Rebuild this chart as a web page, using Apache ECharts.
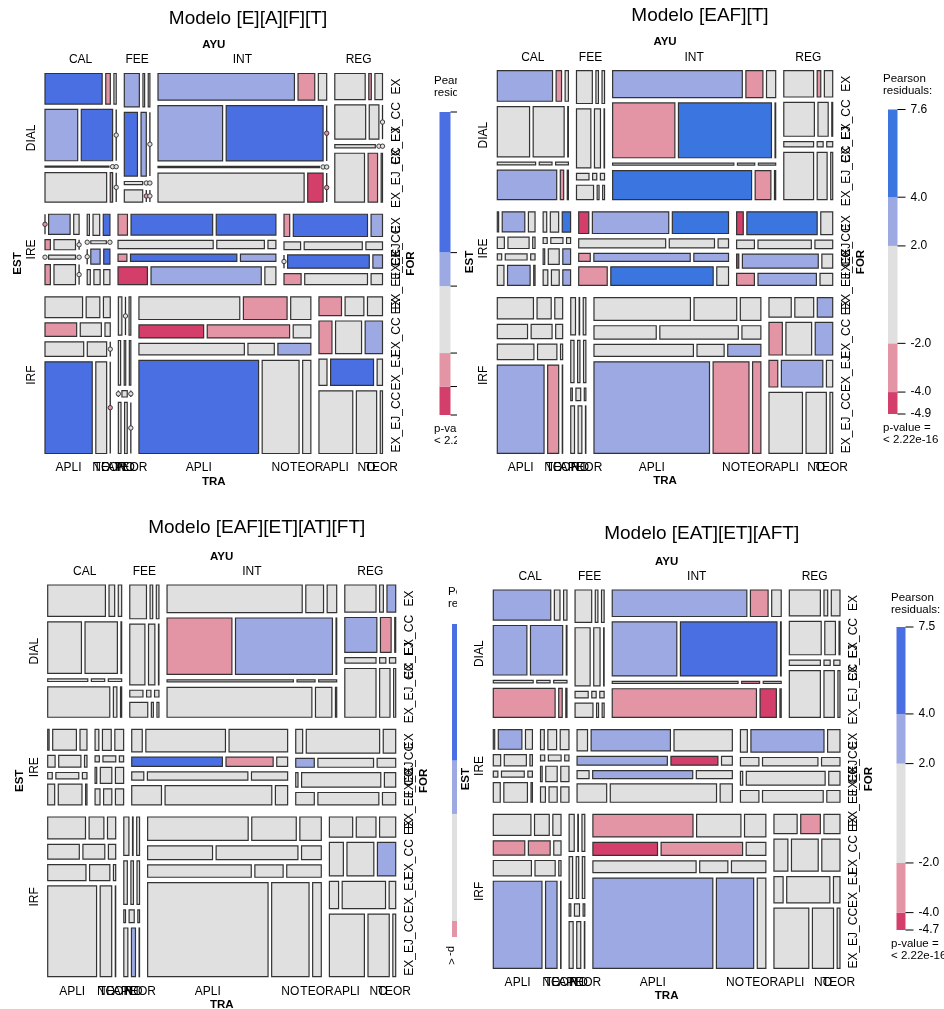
<!DOCTYPE html>
<html>
<head>
<meta charset="utf-8">
<script src="https://cdn.jsdelivr.net/npm/echarts@6/dist/echarts.min.js"></script>
<style>
html,body{margin:0;padding:0;background:#fff;}
#main{width:944px;height:1009px;}
</style>
</head>
<body>
<div id="main"></div>
<script>
// ---- factor levels ----
const EST_LEVELS = ['DIAL', 'IRE', 'IRF'];
const AYU_LEVELS = ['CAL', 'FEE', 'INT', 'REG'];
const FOR_LEVELS = ['EX', 'EX_CC', 'EX_EJ', 'EX_EJ_CC'];
const TRA_LEVELS = ['APLI', 'NO', 'TEOR'];

// ---- observed counts, [AYU][FOR][TRA] for each level of EST ----
const countsDIAL = [
  [[25, 2, 1], [24, 23, 0], [1, 0, 0], [26, 1, 0]],
  [[9, 1, 1], [15, 6, 0], [1, 0, 0], [4, 0, 0]],
  [[49, 6, 3], [48, 72, 0], [3, 0, 0], [57, 6, 0]],
  [[12, 1, 3], [16, 5, 0], [2, 0, 0], [22, 7, 1]]
];
const countsIRE = [
  [[0, 8, 2], [1, 4, 0], [0, 2, 0], [2, 8, 0]],
  [[1, 3, 3], [0, 1, 0], [0, 3, 2], [1, 2, 2]],
  [[3, 26, 19], [12, 6, 1], [1, 12, 4], [8, 30, 3]],
  [[2, 26, 4], [2, 7, 2], [0, 17, 2], [3, 11, 2]]
];
const countsIRF = [
  [[11, 4, 2], [6, 4, 1], [8, 4, 0], [61, 14, 0]],
  [[4, 0, 2], [3, 2, 2], [0, 1, 0], [4, 4, 0]],
  [[30, 13, 6], [11, 14, 3], [16, 4, 5], [146, 45, 10]],
  [[6, 5, 4], [6, 12, 8], [3, 16, 2], [30, 18, 2]]
];

// ---- Pearson residuals per model, [AYU][FOR][TRA] for each level of EST ----
// Modelo [E][A][F][T]
const res1DIAL = [
  [[5, -3, 0], [3, 5, 0], [0, 0, 0], [0, -3, 0]],
  [[3, 0, 0], [5, 3, 0], [0, 0, 0], [0, -2.5, 0]],
  [[3, -3, 0], [3, 5, -3], [0, 0, 0], [0, -5, -3]],
  [[0, -3, 0], [0, 0, 0], [0, 0, 0], [0, -3, 0]]
];
const res1IRE = [
  [[-3, 3, 0], [-3, 0, 0], [0, 0, 0], [-3, 0, 0]],
  [[0, 0, 5], [0, 0, 0], [0, 3, 5], [0, 0, 0]],
  [[-3, 5, 5], [0, 0, 0], [-3, 5, 3], [-5, 3, 0]],
  [[-3, 5, 3], [0, 0, 0], [0, 5, 3], [-3, 0, 0]]
];
const res1IRF = [
  [[0, 0, 0], [-3, 0, 0], [0, 0, 0], [5, 0, -3]],
  [[0, 0, 0], [0, 0, 0], [0, 0, 0], [0, 0, 0]],
  [[0, -3, 0], [-5.7, -3, 0], [0, 0, 3], [12.4, 0, 0]],
  [[-3, 0, 0], [-3, 0, 3], [0, 5, 0], [0, 0, 0]]
];
// Modelo [EAF][T]
const res2DIAL = [
  [[3, -3, 0], [0, 0, 0], [0, 0, 0], [3, -3, 0]],
  [[0, 0, 0], [0, 0, 0], [0, 0, 0], [0, 0, 0]],
  [[3, -3, 0], [-3, 7.6, 0], [0, 0, 0], [5, -3, 0]],
  [[0, -3, 0], [0, 0, 0], [0, 0, 0], [0, 0, 0]]
];
const res2IRE = [
  [[0, 3, 0], [0, 0, 0], [0, 0, 0], [0, 3, 0]],
  [[0, 0, 5], [0, 0, 0], [0, 0, 3], [0, 0, 3]],
  [[-4.9, 3, 5], [0, 0, 0], [-3, 3, 3], [-3, 5, 0]],
  [[-4.5, 5, 0], [0, 0, 0], [-4.5, 3, 0], [-3, 3, 0]]
];
const res2IRF = [
  [[0, 0, 0], [0, 0, 0], [0, 0, 0], [3, -3, 0]],
  [[0, 0, 0], [0, 0, 0], [0, 0, 0], [0, 0, 0]],
  [[0, 0, 0], [0, 0, 0], [0, 0, 3], [3, -3, -3]],
  [[0, 0, 3], [-3, 0, 3], [-3, 3, 0], [0, 0, 0]]
];
// Modelo [EAF][ET][AT][FT]
const res3DIAL = [
  [[0, 0, 0], [0, 0, 0], [0, 0, 0], [0, 0, 0]],
  [[0, 0, 0], [0, 0, 0], [0, 0, 0], [0, 0, 0]],
  [[0, 0, 0], [-2.6, 3, 0], [0, 0, 0], [0, 0, 0]],
  [[0, 0, 3], [3, -2.4, 0], [0, 0, 0], [0, 0, 0]]
];
const res3IRE = [
  [[0, 0, 0], [0, 0, 0], [0, 0, 0], [0, 0, 0]],
  [[0, 0, 0], [0, 0, 0], [0, 0, 0], [0, 0, 0]],
  [[0, 0, 0], [9.1, -2.4, 0], [0, 0, 0], [0, 0, 0]],
  [[0, 0, 0], [3, 0, 0], [0, 0, 0], [0, 0, 0]]
];
const res3IRF = [
  [[0, 0, 0], [0, 0, 0], [0, 0, 0], [0, 0, 0]],
  [[0, 0, 0], [0, 0, 0], [0, 0, 0], [0, 3, 0]],
  [[0, 0, 0], [0, 0, 0], [0, 0, 0], [0, 0, 0]],
  [[0, 0, 0], [0, 0, 3], [0, 0, 0], [0, 0, 0]]
];
// Modelo [EAT][ET][AFT]
const res4DIAL = [
  [[3, 0, 0], [3, 3, 0], [0, 0, 0], [-3, -3, 0]],
  [[0, 0, 0], [0, 0, 0], [0, 0, 0], [0, 0, 0]],
  [[3, -3, 0], [3, 7.5, 0], [0, -3, 0], [-3, -4.5, 0]],
  [[0, 0, 0], [0, 0, 0], [0, 0, 0], [0, 0, 0]]
];
const res4IRE = [
  [[0, 3, 0], [0, 0, 0], [0, 0, 0], [0, 0, 0]],
  [[0, 0, 0], [0, 0, 0], [0, 0, 0], [0, 0, 0]],
  [[0, 3, 0], [3, -4.7, 0], [0, 3, 0], [0, 0, 0]],
  [[0, 3, 0], [0, 0, 0], [0, 0, 0], [0, 0, 0]]
];
const res4IRF = [
  [[0, 0, 0], [-3, -3, 0], [0, 0, 0], [3, 3, 0]],
  [[0, 0, 0], [0, 0, 0], [0, 0, 0], [0, 0, 0]],
  [[-3, 0, 0], [-4.5, -3, 0], [0, 0, 0], [3, 3, 0]],
  [[0, -3, 0], [0, 0, 0], [0, 0, 0], [0, 0, 0]]
];

const PVALUE = ['p-value =', '< 2.22e-16'];
const LEGEND_TITLE = ['Pearson', 'residuals:'];

// ---- drawing setup ----
const FONT = '"Liberation Sans", Arial, Helvetica, sans-serif';
const GAP = { est: 12.15, ayu: 8.1, for: 5.4, tra: 3.6 };
const BREAKS = [-4, -2, 2, 4];
const COL = { blue1: '#9da9e2', grey: '#e0e0e0', red1: '#e495a5', red2: '#d33f6a' };

const panels = [
  { title: 'Modelo [E][A][F][T]', res: [res1DIAL, res1IRE, res1IRF], add: 0, circles: true,
    box: { left: 45, top: 73.5, width: 337.5, height: 380 }, titleAt: [248, 18.5], blue2: '#4a6fe3',
    leg: { x: 439.5, w: 11, top: 112, bottom: 415, textX: 434, textY: 87, pY: 429 }, z: 1 },
  { title: 'Modelo [EAF][T]', res: [res2DIAL, res2IRE, res2IRF], add: 0.5, circles: false,
    box: { left: 497.3, top: 70.7, width: 335.4, height: 382.6 }, titleAt: [700, 16], blue2: '#3b76e0',
    leg: { x: 888, w: 9.5, top: 109.5, bottom: 414, textX: 883, textY: 85, pY: 428 }, z: 6 },
  { title: 'Modelo [EAF][ET][AT][FT]', res: [res3DIAL, res3IRE, res3IRF], add: 0.5, circles: false,
    box: { left: 47.7, top: 585, width: 348, height: 391.7 }, titleAt: [256.7, 528], blue2: '#4a6fe3',
    leg: { x: 452, w: 10, top: 624, bottom: 937, textX: 448, textY: 598, pY: null }, z: 1 },
  { title: 'Modelo [EAT][ET][AFT]', res: [res4DIAL, res4IRE, res4IRF], add: 0.5, circles: false,
    box: { left: 493.3, top: 590, width: 346.7, height: 378.3 }, titleAt: [701.7, 534], blue2: '#4a6fe3',
    leg: { x: 896.5, w: 9, top: 627, bottom: 930, textX: 891, textY: 604, pY: 944 }, z: 6 }
];

const COUNTS = [countsDIAL, countsIRE, countsIRF];

function sum(a) { return a.reduce((s, v) => s + v, 0); }
function flat(a) { return Array.isArray(a) ? a.reduce((s, v) => s.concat(flat(v)), []) : [a]; }

function shade(r, blue2) {
  if (r > 4) return blue2;
  if (r > 2) return COL.blue1;
  if (r < -4) return COL.red2;
  if (r < -2) return COL.red1;
  return COL.grey;
}

// mosaic layout: EST split vertically, AYU horizontally, FOR vertically, TRA horizontally
function mosaic(counts, W, H, add) {
  const c = counts.map(e => e.map(a => a.map(f => f.map(v => v + add))));
  const tE = c.map(e => sum(e.map(a => sum(a.map(sum)))));
  const T = sum(tE);
  const cells = [], estBox = [], ayuBox = [];
  const availH = H - GAP.est * (c.length - 1);
  let y = 0;
  c.forEach((e, ei) => {
    const hE = availH * tE[ei] / T;
    estBox.push({ y0: y, y1: y + hE });
    ayuBox.push([]);
    const tA = e.map(a => sum(a.map(sum)));
    const availW = W - GAP.ayu * (e.length - 1);
    let x = 0;
    e.forEach((a, ai) => {
      const wA = availW * tA[ai] / tE[ei];
      const rows = [];
      const tF = a.map(sum);
      const availHF = hE - GAP.for * (a.length - 1);
      let yy = y;
      a.forEach((f, fi) => {
        const hF = availHF * tF[fi] / tA[ai];
        const availWT = wA - GAP.tra * (f.length - 1);
        const cols = [];
        let xx = x;
        f.forEach((v, ti) => {
          const wT = tF[fi] > 0 ? availWT * v / tF[fi] : 0;
          const cell = { e: ei, a: ai, f: fi, t: ti, x0: xx, x1: xx + wT, y0: yy, y1: yy + hF, count: v - add };
          cells.push(cell);
          cols.push(cell);
          xx += wT + GAP.tra;
        });
        rows.push({ y0: yy, y1: yy + hF, cols: cols });
        yy += hF + GAP.for;
      });
      ayuBox[ei].push({ x0: x, x1: x + wA, rows: rows });
      x += wA + GAP.ayu;
    });
    y += hE + GAP.est;
  });
  return { cells, estBox, ayuBox, W, H };
}

const grid = [], xAxis = [], yAxis = [], series = [], graphic = [];

panels.forEach((p, pi) => {
  const W = p.box.width, H = p.box.height;
  const lay = mosaic(COUNTS, W, H, p.add);
  const allRes = flat(p.res);
  const rMax = Math.max.apply(null, allRes), rMin = Math.min.apply(null, allRes);

  // mosaic grid, axes in panel units
  const gi = grid.length;
  grid.push({ left: p.box.left, top: p.box.top, width: W, height: H, containLabel: false });
  xAxis.push({ gridIndex: gi, type: 'value', min: 0, max: W, show: false });
  yAxis.push({ gridIndex: gi, type: 'value', min: 0, max: H, inverse: true, show: false });

  const cellData = lay.cells.map(c => [c.x0, c.x1, c.y0, c.y1, p.res[c.e][c.a][c.f][c.t], (p.circles && c.count === 0) ? 1 : 0]);
  series.push({
    type: 'custom', xAxisIndex: gi, yAxisIndex: gi, z: p.z, clip: false, silent: true,
    data: cellData,
    renderItem: function (params, api) {
      const p0 = api.coord([api.value(0), api.value(2)]);
      const p1 = api.coord([api.value(1), api.value(3)]);
      const col = shade(api.value(4), p.blue2);
      if (api.value(5) === 1) {
        const xm = p0[0];
        return { type: 'group', children: [
          { type: 'line', shape: { x1: xm, y1: p0[1], x2: xm, y2: p1[1] }, style: { stroke: '#2b2b2b', lineWidth: 1.3 } },
          { type: 'circle', shape: { cx: xm, cy: (p0[1] + p1[1]) / 2, r: 2.2 }, style: { fill: col, stroke: '#2b2b2b', lineWidth: 0.9 } }
        ] };
      }
      return { type: 'rect',
        shape: { x: Math.min(p0[0], p1[0]), y: Math.min(p0[1], p1[1]), width: Math.abs(p1[0] - p0[0]), height: Math.abs(p1[1] - p0[1]) },
        style: { fill: col, stroke: '#333', lineWidth: 1.2 } };
    }
  });

  // level and variable labels placed from the layout
  series.push({
    type: 'custom', xAxisIndex: gi, yAxisIndex: gi, z: p.z, clip: false, silent: true,
    data: [[0, 0]],
    renderItem: function (params, api) {
      const kids = [];
      const txt = (x, y, s, bold, rot) => {
        const pt = api.coord([x, y]);
        kids.push({ type: 'text', x: pt[0], y: pt[1], rotation: rot ? Math.PI / 2 : 0,
          style: { text: s, fill: '#000', font: (bold ? 'bold 11.5px ' : '12px ') + FONT, align: 'center', verticalAlign: 'middle' } });
      };
      txt(W / 2, -28.5, 'AYU', true, false);
      lay.ayuBox[0].forEach((b, ai) => txt((b.x0 + b.x1) / 2, -13.5, AYU_LEVELS[ai], false, false));
      txt(W / 2, H + 28, 'TRA', true, false);
      lay.ayuBox[2].forEach(b => {
        const last = b.rows[b.rows.length - 1];
        last.cols.forEach((c, ti) => txt((c.x0 + c.x1) / 2, H + 14.5, TRA_LEVELS[ti], false, false));
      });
      txt(-27.5, H / 2, 'EST', true, true);
      lay.estBox.forEach((b, ei) => txt(-13.5, (b.y0 + b.y1) / 2, EST_LEVELS[ei], false, true));
      txt(W + 28.5, H / 2, 'FOR', true, true);
      lay.ayuBox.forEach(row => {
        const b = row[row.length - 1];
        b.rows.forEach((r, fi) => txt(W + 14, (r.y0 + r.y1) / 2, FOR_LEVELS[fi], false, true));
      });
      return { type: 'group', children: kids };
    }
  });

  // residual legend: colour bar on its own value axis
  const lg = p.leg;
  const li = grid.length;
  grid.push({ left: lg.x, top: lg.top, width: lg.w, height: lg.bottom - lg.top, containLabel: false });
  xAxis.push({ gridIndex: li, type: 'value', min: 0, max: 1, show: false });
  yAxis.push({ gridIndex: li, type: 'value', min: rMin, max: rMax, show: false });
  const edges = [rMin].concat(BREAKS.filter(b => b > rMin && b < rMax)).concat([rMax]);
  const pieces = [];
  for (let i = 0; i < edges.length - 1; i++) pieces.push([edges[i], edges[i + 1], (edges[i] + edges[i + 1]) / 2]);
  series.push({
    type: 'custom', xAxisIndex: li, yAxisIndex: li, z: p.z, clip: false, silent: true,
    data: pieces,
    renderItem: function (params, api) {
      const a = api.coord([0, api.value(1)]);
      const b = api.coord([1, api.value(0)]);
      return { type: 'rect', shape: { x: a[0], y: a[1], width: b[0] - a[0], height: b[1] - a[1] },
        style: { fill: shade(api.value(2), p.blue2) } };
    }
  });
  const ticks = edges.slice().reverse().map(v => [v]);
  series.push({
    type: 'custom', xAxisIndex: li, yAxisIndex: li, z: p.z, clip: false, silent: true,
    data: ticks,
    renderItem: function (params, api) {
      const v = api.value(0);
      const pt = api.coord([1, v]);
      return { type: 'group', children: [
        { type: 'line', shape: { x1: pt[0], y1: pt[1], x2: pt[0] + 8, y2: pt[1] }, style: { stroke: '#000', lineWidth: 1 } },
        { type: 'text', x: pt[0] + 13, y: pt[1], style: { text: v.toFixed(1), fill: '#000', font: '12px ' + FONT, align: 'left', verticalAlign: 'middle' } }
      ] };
    }
  });

  // title and legend text
  graphic.push({ type: 'text', x: p.titleAt[0], y: p.titleAt[1], z: p.z,
    style: { text: p.title, fill: '#000', font: '19px ' + FONT, align: 'center', verticalAlign: 'middle' } });
  graphic.push({ type: 'text', x: lg.textX, y: lg.textY, z: p.z,
    style: { text: LEGEND_TITLE.join('\n'), fill: '#000', font: '11.5px ' + FONT, lineHeight: 12, align: 'left', verticalAlign: 'middle' } });
  if (lg.pY !== null) {
    graphic.push({ type: 'text', x: lg.textX, y: lg.pY + 6, z: p.z,
      style: { text: PVALUE.join('\n'), fill: '#000', font: '11.5px ' + FONT, lineHeight: 12, align: 'left', verticalAlign: 'middle' } });
  } else {
    // only the start of the turned p-value note shows beside this panel
    graphic.push({ type: 'text', x: 451.5, y: 951, z: p.z, rotation: -Math.PI / 2,
      style: { text: PVALUE[0].slice(0, 2), fill: '#000', font: '11px ' + FONT, align: 'center', verticalAlign: 'middle' } });
    graphic.push({ type: 'text', x: 451, y: 961.5, z: p.z, rotation: -Math.PI / 2,
      style: { text: PVALUE[1].slice(0, 1), fill: '#000', font: '11px ' + FONT, align: 'center', verticalAlign: 'middle' } });
  }
});

// right-hand column is drawn over the overflow of the left-hand panels
graphic.push({ type: 'rect', x: 457, y: 0, z: 3, shape: { width: 487, height: 1009 }, style: { fill: '#fff' } });

const chart = echarts.init(document.getElementById('main'), null, { renderer: 'canvas' });
chart.setOption({
  animation: false,
  backgroundColor: '#fff',
  grid: grid,
  xAxis: xAxis,
  yAxis: yAxis,
  series: series,
  graphic: graphic
});
</script>
</body>
</html>
